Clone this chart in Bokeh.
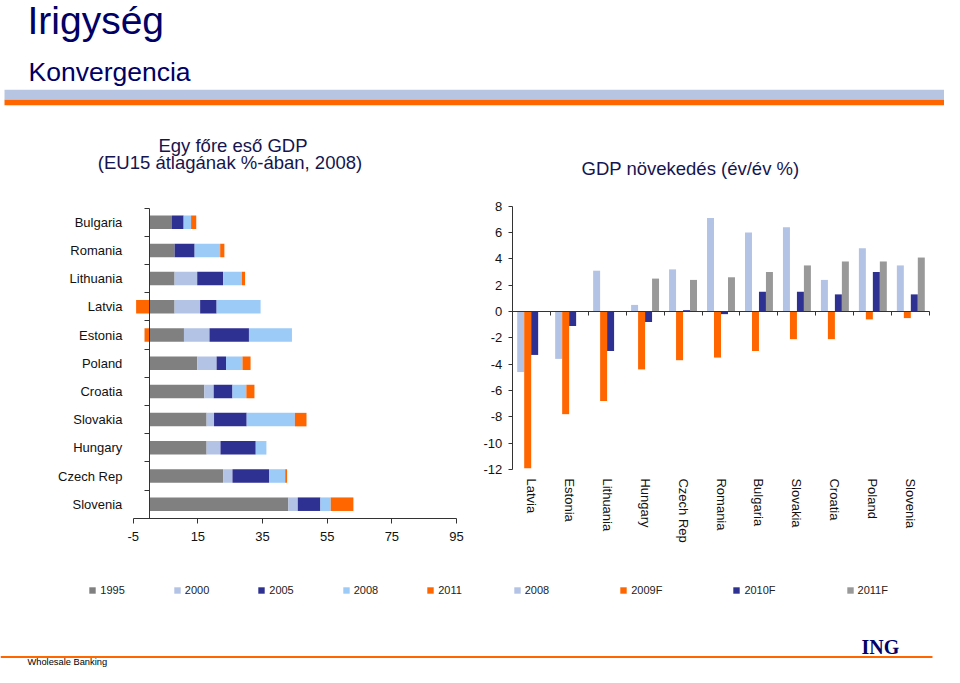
import numpy as np
from bokeh.plotting import figure
from bokeh.models import (Range1d, LinearAxis, FixedTicker, Label, BoxAnnotation,
                          Legend, LegendItem)
from bokeh.embed import file_html
from bokeh.resources import INLINE

# ---------------- data: left chart (GDP per capita, stacked segments) ----------------
left_countries = ["Bulgaria", "Romania", "Lithuania", "Latvia", "Estonia", "Poland",
                  "Croatia", "Slovakia", "Hungary", "Czech Rep", "Slovenia"]
left_series = ["1995", "2000", "2005", "2008", "2011"]
gdp_1995 = [7.0, 7.8, 7.8, 7.8, 10.7, 14.8, 17.0, 17.7, 17.7, 22.8, 43.0]
gdp_2000 = [0.0, 0.0, 7.0, 7.9, 7.9, 6.0, 2.9, 2.3, 4.3, 2.9, 2.9]
gdp_2005 = [3.6, 6.2, 8.0, 5.1, 12.2, 2.9, 5.8, 10.1, 10.9, 11.3, 7.0]
gdp_2008 = [2.3, 7.9, 5.8, 13.6, 13.3, 5.1, 4.3, 14.9, 3.3, 5.0, 3.2]
gdp_2011 = [1.6, 1.3, 1.0, -4.1, -1.5, 2.5, 2.5, 3.6, 0.0, 0.6, 7.0]
left_ticks = [-5, 15, 35, 55, 75, 95]

# ---------------- data: right chart (GDP growth y/y %) ----------------
right_countries = ["Latvia", "Estonia", "Lithuania", "Hungary", "Czech Rep", "Romania",
                   "Bulgaria", "Slovakia", "Croatia", "Poland", "Slovenia"]
right_series = ["2008", "2009F", "2010F", "2011F"]
growth_2008 = [-4.6, -3.6, 3.1, 0.5, 3.2, 7.1, 6.0, 6.4, 2.4, 4.8, 3.5]
growth_2009 = [-11.9, -7.8, -6.8, -4.4, -3.7, -3.5, -3.0, -2.1, -2.1, -0.6, -0.5]
growth_2010 = [-3.3, -1.1, -3.0, -0.8, 0.1, -0.2, 1.5, 1.5, 1.3, 3.0, 1.3]
growth_2011 = [np.nan, np.nan, np.nan, 2.5, 2.4, 2.6, 3.0, 3.5, 3.8, 3.8, 4.1]
right_ticks = [-12, -10, -8, -6, -4, -2, 0, 2, 4, 6, 8]

# ---------------- styles ----------------
FONT = "Liberation Sans"
NAVY = "#000066"
TITLE_COL = "#15154f"
AXC = "#333333"
C_GRAY = "#808080"
C_STEEL = "#b3c3e5"
C_NAVY = "#2f3192"
C_LBLUE = "#9dcbf7"
C_ORANGE = "#ff6600"
C_GRAY2 = "#999999"

W, H = 944, 667


def Y(py):
    # picture y (from top) -> main data y
    return H - py


def lin_range(v0, p0, v1, p1, pa, pb):
    s = (v1 - v0) / (p1 - p0)
    return Range1d(v0 + (pa - p0) * s, v0 + (pb - p0) * s)


p = figure(width=W, height=H, x_range=Range1d(0, W), y_range=Range1d(0, H),
           output_backend="svg", toolbar_location=None, x_axis_location=None,
           y_axis_location=None, min_border=0, outline_line_color=None)
p.title.visible = False
p.grid.visible = False

p.extra_x_ranges = {
    "lx": lin_range(-5, 132.7, 55, 326.7, 0, W),
    "rx": lin_range(0, 511.7, 11, 929.3, 0, W),
}
p.extra_y_ranges = {
    "ly": lin_range(0, 221.7, -10, 503.7, H, 0),
    "ry": lin_range(0, 311.0, 8, 205.7, H, 0),
}

# ---------------- left chart: stacked horizontal bars ----------------
n_l = len(left_countries)
ypos = -np.arange(n_l)
pos = np.zeros(n_l)
neg = np.zeros(n_l)
left_renderers = []
for vals, col in zip([gdp_1995, gdp_2000, gdp_2005, gdp_2008, gdp_2011],
                     [C_GRAY, C_STEEL, C_NAVY, C_LBLUE, C_ORANGE]):
    v = np.array(vals, dtype=float)
    start = np.where(v >= 0, pos, neg)
    end = start + v
    pos = np.where(v >= 0, pos + v, pos)
    neg = np.where(v < 0, neg + v, neg)
    r = p.hbar(y=ypos, left=start, right=end, height=0.48, fill_color=col, line_color=None,
               x_range_name="lx", y_range_name="ly")
    left_renderers.append(r)

ax_ly = LinearAxis(x_range_name="lx", y_range_name="ly", fixed_location=0,
                   bounds=(-(n_l - 0.5), 0.5),
                   ticker=FixedTicker(ticks=[int(v) for v in ypos],
                                      minor_ticks=[float(v) for v in (-np.arange(n_l + 1) + 0.5)]),
                   major_tick_in=0, major_tick_out=0, minor_tick_in=0, minor_tick_out=5,
                   major_label_overrides={int(-i): c for i, c in enumerate(left_countries)},
                   major_label_standoff=22, major_label_text_font=FONT,
                   major_label_text_font_size="13px", major_label_text_color="#111111",
                   axis_line_color=AXC, minor_tick_line_color=AXC)
p.add_layout(ax_ly, "left")

ax_lx = LinearAxis(x_range_name="lx", y_range_name="ly", fixed_location=-(n_l - 0.5),
                   bounds=(left_ticks[0], left_ticks[-1]),
                   ticker=FixedTicker(ticks=left_ticks),
                   major_label_overrides={t: str(t) for t in left_ticks},
                   major_tick_in=0, major_tick_out=5, minor_tick_in=0, minor_tick_out=0,
                   major_label_standoff=9, major_label_text_font=FONT,
                   major_label_text_font_size="13px", major_label_text_color="#111111",
                   axis_line_color=AXC, major_tick_line_color=AXC)
p.add_layout(ax_lx, "below")

# ---------------- right chart: grouped vertical bars ----------------
n_r = len(right_countries)
BW = 0.184
right_renderers = []
for k, (vals, col) in enumerate(zip([growth_2008, growth_2009, growth_2010, growth_2011],
                                    [C_STEEL, C_ORANGE, C_NAVY, C_GRAY2])):
    xs = np.arange(n_r) + 0.5 + (k - 1.5) * BW
    r = p.vbar(x=xs, top=np.array(vals, dtype=float), bottom=0, width=BW, fill_color=col,
               line_color=None, x_range_name="rx", y_range_name="ry")
    right_renderers.append(r)

ax_ry = LinearAxis(x_range_name="rx", y_range_name="ry", fixed_location=0,
                   bounds=(right_ticks[0], right_ticks[-1]),
                   ticker=FixedTicker(ticks=right_ticks),
                   major_label_overrides={t: str(t) for t in right_ticks},
                   major_tick_in=0, major_tick_out=4, minor_tick_in=0, minor_tick_out=0,
                   major_label_standoff=6, major_label_text_font=FONT,
                   major_label_text_font_size="13px", major_label_text_color="#111111",
                   axis_line_color=AXC, major_tick_line_color=AXC)
p.add_layout(ax_ry, "left")

ax_r0 = LinearAxis(x_range_name="rx", y_range_name="ry", fixed_location=0,
                   bounds=(0, n_r),
                   ticker=FixedTicker(ticks=[], minor_ticks=list(range(1, n_r + 1))),
                   major_tick_in=0, major_tick_out=0, minor_tick_in=0, minor_tick_out=4,
                   axis_line_color=AXC, minor_tick_line_color=AXC)
p.add_layout(ax_r0, "below")

ax_rl = LinearAxis(x_range_name="rx", y_range_name="ry", fixed_location=right_ticks[0],
                   bounds=(0, n_r),
                   ticker=FixedTicker(ticks=[i + 0.5 for i in range(n_r)]),
                   major_tick_in=0, major_tick_out=0, minor_tick_in=0, minor_tick_out=0,
                   major_label_overrides={i + 0.5: c for i, c in enumerate(right_countries)},
                   major_label_orientation="vertical", major_label_standoff=9,
                   major_label_text_font=FONT, major_label_text_font_size="13px",
                   major_label_text_color="#111111", axis_line_color=None)
p.add_layout(ax_rl, "below")

# ---------------- legends ----------------
def make_legend(names, rends, x, y, spacing):
    lg = Legend(items=[LegendItem(label=nm, renderers=[r]) for nm, r in zip(names, rends)],
                orientation="horizontal", location=(x, y), spacing=spacing,
                glyph_width=8, glyph_height=8, label_height=8, label_standoff=4,
                label_text_font=FONT, label_text_font_size="11px",
                label_text_color="#222222", padding=0, margin=0,
                border_line_color=None, background_fill_alpha=0)
    p.add_layout(lg, "center")

make_legend(left_series, left_renderers, 88.3, 71, 48)
make_legend(right_series, right_renderers, 512.7, 71, 70)

# ---------------- slide decoration & titles ----------------
p.add_layout(BoxAnnotation(left=4, right=W, top=Y(89.3), bottom=Y(99.3),
                           fill_color="#b7c5e2", fill_alpha=1, line_color=None))
p.add_layout(BoxAnnotation(left=4, right=W, top=Y(99.3), bottom=Y(104.7),
                           fill_color=C_ORANGE, fill_alpha=1, line_color=None))
p.add_layout(BoxAnnotation(left=0, right=932, top=Y(655.5), bottom=Y(657.6),
                           fill_color=C_ORANGE, fill_alpha=1, line_color=None))


def add_text(txt, x, y, size, color, align="left", font=FONT, style="normal"):
    # y = visual middle of the text line (picture pixels from top)
    p.add_layout(Label(x=x, y=Y(y), text=txt, text_font=font, text_font_size=size,
                       text_color=color, text_align=align, text_baseline="middle",
                       text_font_style=style))


add_text("Irigység", 27, 20.0, "39px", NAVY)
add_text("Konvergencia", 28, 71.8, "26.5px", NAVY)
add_text("Egy főre eső GDP", 232.5, 144.6, "18.5px", TITLE_COL, align="center")
add_text("(EU15 átlagának %-ában, 2008)", 229.5, 161.8, "18.5px", TITLE_COL, align="center")
add_text("GDP növekedés (év/év %)", 690, 168.0, "18.5px", TITLE_COL, align="center")
add_text("ING", 861, 646, "20px", NAVY, font="Liberation Serif", style="bold")
add_text("Wholesale Banking", 27, 661.5, "9.3px", "#000000")

open("out.html", "w").write(file_html(p, INLINE))
